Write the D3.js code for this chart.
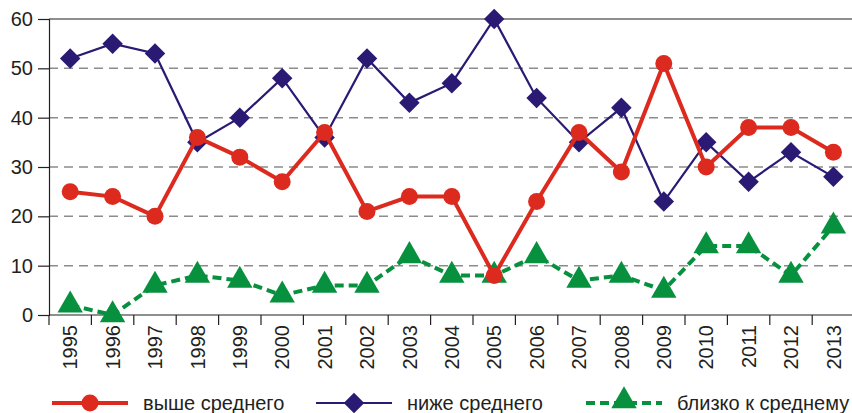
<!DOCTYPE html>
<html>
<head>
<meta charset="utf-8">
<script src="https://cdn.jsdelivr.net/npm/d3@7"></script>
<style>
  body { margin: 0; background: #fff; }
  svg { display: block; font-family: "Liberation Sans", Arial, sans-serif; }
</style>
</head>
<body>
<svg width="852" height="413"></svg>
<script>
var years = ["1995","1996","1997","1998","1999","2000","2001","2002","2003","2004",
             "2005","2006","2007","2008","2009","2010","2011","2012","2013"];
var above = [25, 24, 20, 36, 32, 27, 37, 21, 24, 24, 8, 23, 37, 29, 51, 30, 38, 38, 33];
var below = [52, 55, 53, 35, 40, 48, 36, 52, 43, 47, 60, 44, 35, 42, 23, 35, 27, 33, 28];
var near  = [2, 0, 6, 8, 7, 4, 6, 6, 12, 8, 8, 12, 7, 8, 5, 14, 14, 8, 18];
var yTicks = [0, 10, 20, 30, 40, 50, 60];
var seriesNames = ["выше среднего", "ниже среднего", "близко к среднему"];

var svg = d3.select("svg");

var plotLeft = 49, plotTop = 19, plotBottom = 315, step = 42.4;

var x = d3.scaleBand()
    .domain(years)
    .range([plotLeft, plotLeft + step * years.length]);

var y = d3.scaleLinear()
    .domain([0, 60])
    .range([plotBottom, plotTop]);

var ink = "#231f20";

// grid
svg.append("g")
  .selectAll("line")
  .data(yTicks.filter(function(d) { return d > 0 && d < 60; }))
  .enter().append("line")
    .attr("x1", plotLeft).attr("x2", 852)
    .attr("y1", function(d) { return y(d); })
    .attr("y2", function(d) { return y(d); })
    .attr("stroke", "#8c8c8c")
    .attr("stroke-width", 1.5)
    .attr("stroke-dasharray", "9,6");

// top line
svg.append("line")
    .attr("x1", plotLeft).attr("x2", 852)
    .attr("y1", y(60)).attr("y2", y(60))
    .attr("stroke", ink).attr("stroke-width", 1.2);

// y axis
var yAxis = svg.append("g")
    .attr("transform", "translate(" + plotLeft + ",0)")
    .call(d3.axisLeft(y).tickValues(yTicks).tickSize(11).tickPadding(5));
yAxis.select(".domain").attr("stroke", ink).attr("stroke-width", 1.2);
yAxis.selectAll(".tick line").attr("stroke", ink).attr("stroke-width", 1.2);
yAxis.selectAll("text")
    .attr("fill", ink)
    .style("font-size", "20px");

// x axis with ticks at band boundaries
var xAxis = svg.append("g")
    .attr("transform", "translate(0," + plotBottom + ")")
    .call(d3.axisBottom(x).tickSize(0).tickSizeOuter(0));
xAxis.select(".domain").remove();
svg.append("line")
    .attr("x1", plotLeft).attr("x2", 852)
    .attr("y1", plotBottom).attr("y2", plotBottom)
    .attr("stroke", ink).attr("stroke-width", 1.2);
svg.append("g")
  .selectAll("line")
  .data(years)
  .enter().append("line")
    .attr("x1", function(d) { return x(d); })
    .attr("x2", function(d) { return x(d); })
    .attr("y1", plotBottom).attr("y2", plotBottom + 10)
    .attr("stroke", ink).attr("stroke-width", 1.2);
xAxis.selectAll("text")
    .attr("fill", ink)
    .style("font-size", "20px")
    .attr("text-anchor", "end")
    .attr("transform", "rotate(-90)")
    .attr("x", -10)
    .attr("y", 0)
    .attr("dy", "0.36em");

var cx = function(d, i) { return x(years[i]) + x.bandwidth() / 2; };

var line = d3.line()
    .x(function(d, i) { return cx(d, i); })
    .y(function(d) { return y(d); });

var red = "#dc2a1f", blue = "#2a1a74", green = "#07913f";

var tri = d3.symbol().type(d3.symbolTriangle).size(280);
var dia = d3.symbol().type(d3.symbolSquare).size(210);

// near average
svg.append("path")
    .datum(near)
    .attr("d", line)
    .attr("fill", "none")
    .attr("stroke", green)
    .attr("stroke-width", 4)
    .attr("stroke-dasharray", "9,5");
svg.append("g")
  .selectAll("path")
  .data(near)
  .enter().append("path")
    .attr("d", tri)
    .attr("fill", green)
    .attr("transform", function(d, i) { return "translate(" + cx(d, i) + "," + y(d) + ")"; });

// below average
svg.append("path")
    .datum(below)
    .attr("d", line)
    .attr("fill", "none")
    .attr("stroke", blue)
    .attr("stroke-width", 2.2);
svg.append("g")
  .selectAll("path")
  .data(below)
  .enter().append("path")
    .attr("d", dia)
    .attr("fill", blue)
    .attr("transform", function(d, i) { return "translate(" + cx(d, i) + "," + y(d) + ") rotate(45)"; });

// above average
svg.append("path")
    .datum(above)
    .attr("d", line)
    .attr("fill", "none")
    .attr("stroke", red)
    .attr("stroke-width", 4);
svg.append("g")
  .selectAll("circle")
  .data(above)
  .enter().append("circle")
    .attr("cx", cx)
    .attr("cy", function(d) { return y(d); })
    .attr("r", 8.5)
    .attr("fill", red);

// legend
var ly = 403;
var legend = [
  {x: 52, color: red, width: 4, dash: null, mark: "circle"},
  {x: 316, color: blue, width: 2.2, dash: null, mark: "diamond"},
  {x: 586, color: green, width: 4, dash: "9,5", mark: "triangle"}
];
var lg = svg.append("g").selectAll("g")
    .data(legend)
  .enter().append("g")
    .attr("transform", function(d) { return "translate(" + d.x + "," + ly + ")"; });
lg.append("line")
    .attr("x1", 0).attr("x2", 76)
    .attr("stroke", function(d) { return d.color; })
    .attr("stroke-width", function(d) { return d.width; })
    .attr("stroke-dasharray", function(d) { return d.dash; });
lg.each(function(d) {
  var g = d3.select(this);
  if (d.mark === "circle") {
    g.append("circle").attr("cx", 38).attr("r", 8.5).attr("fill", d.color);
  } else if (d.mark === "diamond") {
    g.append("path").attr("d", dia).attr("fill", d.color)
      .attr("transform", "translate(38,0) rotate(45)");
  } else {
    g.append("path").attr("d", tri).attr("fill", d.color)
      .attr("transform", "translate(38,-2)");
  }
});
lg.append("text")
    .attr("x", 91)
    .attr("dy", "0.35em")
    .attr("fill", ink)
    .style("font-size", "20px")
    .text(function(d, i) { return seriesNames[i]; });
</script>
</body>
</html>
